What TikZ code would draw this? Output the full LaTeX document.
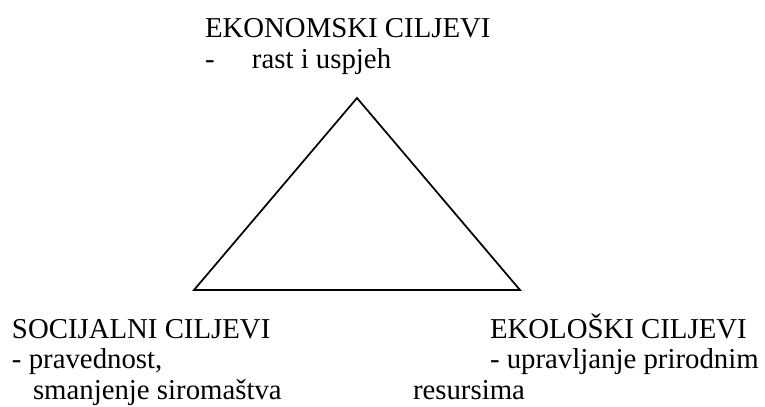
\documentclass[tikz,border=0pt]{standalone}
\usepackage{fontspec}
\setmainfont{Liberation Serif}
\usetikzlibrary{calc}

\begin{document}
\begin{tikzpicture}[
  x=0.75pt, y=-0.75pt,
  font=\fontsize{21.6}{25}\selectfont,
  txt/.style={
    anchor=base west,
    inner sep=0pt,
    outer sep=0pt
  },
  edge/.style={
    draw=black,
    line width=1.3pt,
    line join=miter
  }
]
\useasboundingbox (0,0) rectangle (765,407);

% --- Triangle corners ---
\coordinate (eko) at (357,98);
\coordinate (soc) at (194,290);
\coordinate (ekol) at (520,290);

\draw[edge] (eko) -- (soc) -- (ekol) -- cycle;

% --- Economic goals (top) ---
\node[txt] (ekohead) at (205,37) {EKONOMSKI CILJEVI};
\node[txt] (ekoline) at (205,68) {\makebox[35.25pt][l]{-}rast i uspjeh};

% --- Social goals (bottom left) ---
\node[txt] (sochead) at (12,338) {SOCIJALNI CILJEVI};
\node[txt] (socline) at (12,368) {- pravednost,};
\node[txt] (socmore) at (33,399) {smanjenje siromaštva};

% --- Ecological goals (bottom right) ---
\node[txt] (ekolhead) at (490,338) {EKOLOŠKI CILJEVI};
\node[txt] (ekolline) at (490,368) {- upravljanje prirodnim};
\node[txt] (ekolmore) at (413,399) {resursima};

\end{tikzpicture}
\end{document}
